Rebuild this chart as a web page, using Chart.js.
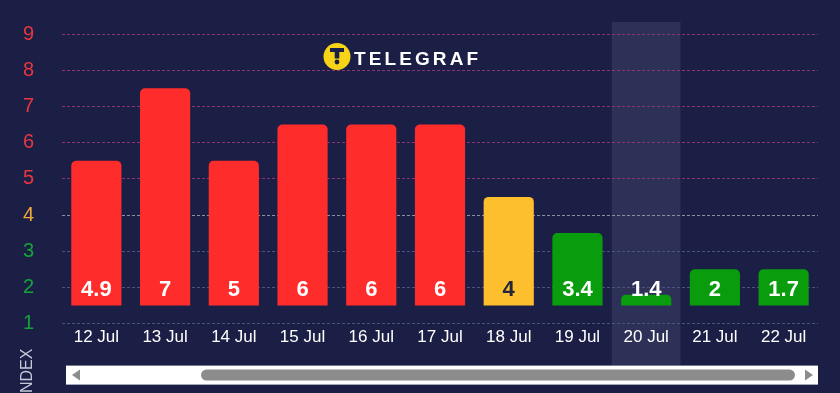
<!DOCTYPE html>
<html>
<head>
<meta charset="utf-8">
<script src="https://cdn.jsdelivr.net/npm/chart.js@4"></script>
<style>
  html, body { margin: 0; padding: 0; background: #1c1f45; }
  #chart { display: block; }
</style>
</head>
<body>
<canvas id="chart" width="840" height="393"></canvas>
<script>
const days = ['12 Jul', '13 Jul', '14 Jul', '15 Jul', '16 Jul', '17 Jul',
    '18 Jul', '19 Jul', '20 Jul', '21 Jul', '22 Jul'];
// index shown on each bar
const indexValues = [4.9, 7, 5, 6, 6, 6, 4, 3.4, 1.4, 2, 1.7];
// where the bar tops sit on the axis
const barTops = [5.5, 7.5, 5.5, 6.5, 6.5, 6.5, 4.5, 3.5, 1.8, 2.5, 2.5];
const barBase = 1.5;
const yTicks = [1, 2, 3, 4, 5, 6, 7, 8, 9];
const selectedDay = '20 Jul';

const FONT = '"Liberation Sans", Arial, sans-serif';
Chart.defaults.font.family = FONT;

const RED = '#ff2c2c', YELLOW = '#fdbf2e', GREEN = '#099c0c';

function barColor(v) {
    if (v >= 4.5) return RED;
    if (v >= 3.5) return YELLOW;
    return GREEN;
}
function tickColor(v) {
    if (v >= 5) return '#e8363f';
    if (v >= 4) return '#f3a83b';
    return '#16a33a';
}
function gridColor(v) {
    if (v >= 5) return '#8c3470';
    if (v >= 4) return '#8d8e9e';
    return '#4c5282';
}

const backdrop = {
    id: 'backdrop',
    beforeDraw(chart) {
        const {ctx, chartArea: a, scales: {x}} = chart;
        ctx.save();
        ctx.fillStyle = '#1c1f45';
        ctx.fillRect(0, 0, chart.width, chart.height);
        // highlighted day
        const i = days.indexOf(selectedDay);
        const w = a.width / days.length;
        const cx = x.getPixelForValue(i);
        ctx.fillStyle = '#2d3157';
        ctx.fillRect(cx - w / 2, a.top - 12, w, a.bottom - a.top + 54);
        ctx.restore();
    }
};

const barLabels = {
    id: 'barLabels',
    afterDatasetsDraw(chart) {
        const {ctx, scales: {y}} = chart;
        const meta = chart.getDatasetMeta(0);
        const ly = y.getPixelForValue(barBase) - 16;
        ctx.save();
        ctx.font = 'bold 22px ' + FONT;
        ctx.textAlign = 'center';
        ctx.textBaseline = 'middle';
        meta.data.forEach((bar, i) => {
            ctx.fillStyle = barColor(indexValues[i]) === YELLOW ? '#23253b' : '#ffffff';
            ctx.fillText(String(indexValues[i]), bar.x, ly);
        });
        ctx.restore();
    }
};

const extras = {
    id: 'extras',
    afterDraw(chart) {
        const {ctx, chartArea: a} = chart;
        ctx.save();

        // logo
        const lx = a.left + 275, ly = a.top + 22.5;
        ctx.fillStyle = '#f7d417';
        ctx.beginPath();
        ctx.arc(lx, ly, 13.5, 0, Math.PI * 2);
        ctx.fill();
        ctx.fillStyle = '#1c1f45';
        ctx.fillRect(lx - 7, ly - 8.5, 14, 4);
        ctx.fillRect(lx - 2.3, ly - 4.5, 4.6, 6.5);
        ctx.beginPath();
        ctx.arc(lx, ly + 5.5, 2.4, 0, Math.PI * 2);
        ctx.fill();

        ctx.fillStyle = '#ffffff';
        ctx.font = 'bold 19px ' + FONT;
        ctx.textBaseline = 'alphabetic';
        ctx.textAlign = 'left';
        let tx = lx + 17;
        for (const ch of 'TELEGRAF') {
            ctx.fillText(ch, tx, ly + 8.5);
            tx += ctx.measureText(ch).width + 3.1;
        }

        // axis title
        ctx.translate(28, a.bottom + 25);
        ctx.rotate(-Math.PI / 2);
        ctx.font = '16px ' + FONT;
        ctx.fillStyle = '#c6c8da';
        ctx.textAlign = 'right';
        ctx.textBaseline = 'middle';
        ctx.fillText('INDEX', 0, 0);
        ctx.setTransform(1, 0, 0, 1, 0, 0);

        // scrollbar
        const sx = a.left + 4, sy = a.bottom + 42, sh = 19;
        ctx.fillStyle = '#ffffff';
        ctx.fillRect(sx, sy, a.right - sx, sh);
        ctx.fillStyle = '#8c8c8c';
        const my = sy + sh / 2;
        ctx.beginPath();
        ctx.moveTo(sx + 6, my);
        ctx.lineTo(sx + 14, my - 5.5);
        ctx.lineTo(sx + 14, my + 5.5);
        ctx.fill();
        ctx.beginPath();
        ctx.moveTo(a.right - 5, my);
        ctx.lineTo(a.right - 13, my - 5.5);
        ctx.lineTo(a.right - 13, my + 5.5);
        ctx.fill();
        ctx.beginPath();
        ctx.roundRect(sx + 135, sy + 4, a.right - 23 - (sx + 135), 11, 5.5);
        ctx.fill();

        ctx.restore();
    }
};

const data = {
    labels: days,
    datasets: [{
        data: barTops,
        base: barBase,
        backgroundColor: indexValues.map(barColor),
        borderRadius: {topLeft: 5, topRight: 5, bottomLeft: 0, bottomRight: 0},
        borderSkipped: 'start',
        categoryPercentage: 1,
        barPercentage: 0.73
    }]
};

const config = {
    type: 'bar',
    data: data,
    options: {
        responsive: false,
        animation: false,
        events: [],
        layout: {
            padding: {top: 34, right: 22, bottom: 42, left: 0}
        },
        plugins: {
            legend: {display: false},
            tooltip: {enabled: false}
        },
        scales: {
            x: {
                grid: {display: false, drawTicks: false},
                border: {display: false},
                ticks: {
                    color: '#ffffff',
                    font: {size: 17},
                    padding: 3.5,
                    maxRotation: 0,
                    autoSkip: false
                }
            },
            y: {
                min: 1,
                max: 9,
                afterBuildTicks: s => { s.ticks = yTicks.map(v => ({value: v})); },
                afterFit: s => {
                    s.width = 62;
                    s.paddingTop = 0;
                    s.paddingBottom = 0;
                },
                ticks: {
                    color: c => tickColor(c.tick.value),
                    font: {size: 20},
                    padding: 28,
                    crossAlign: 'center'
                },
                grid: {
                    color: c => gridColor(c.tick.value),
                    drawTicks: false
                },
                border: {display: false, dash: [3, 2]}
            }
        }
    },
    plugins: [backdrop, barLabels, extras]
};

const myChart = new Chart(document.getElementById('chart'), config);
</script>
</body>
</html>
